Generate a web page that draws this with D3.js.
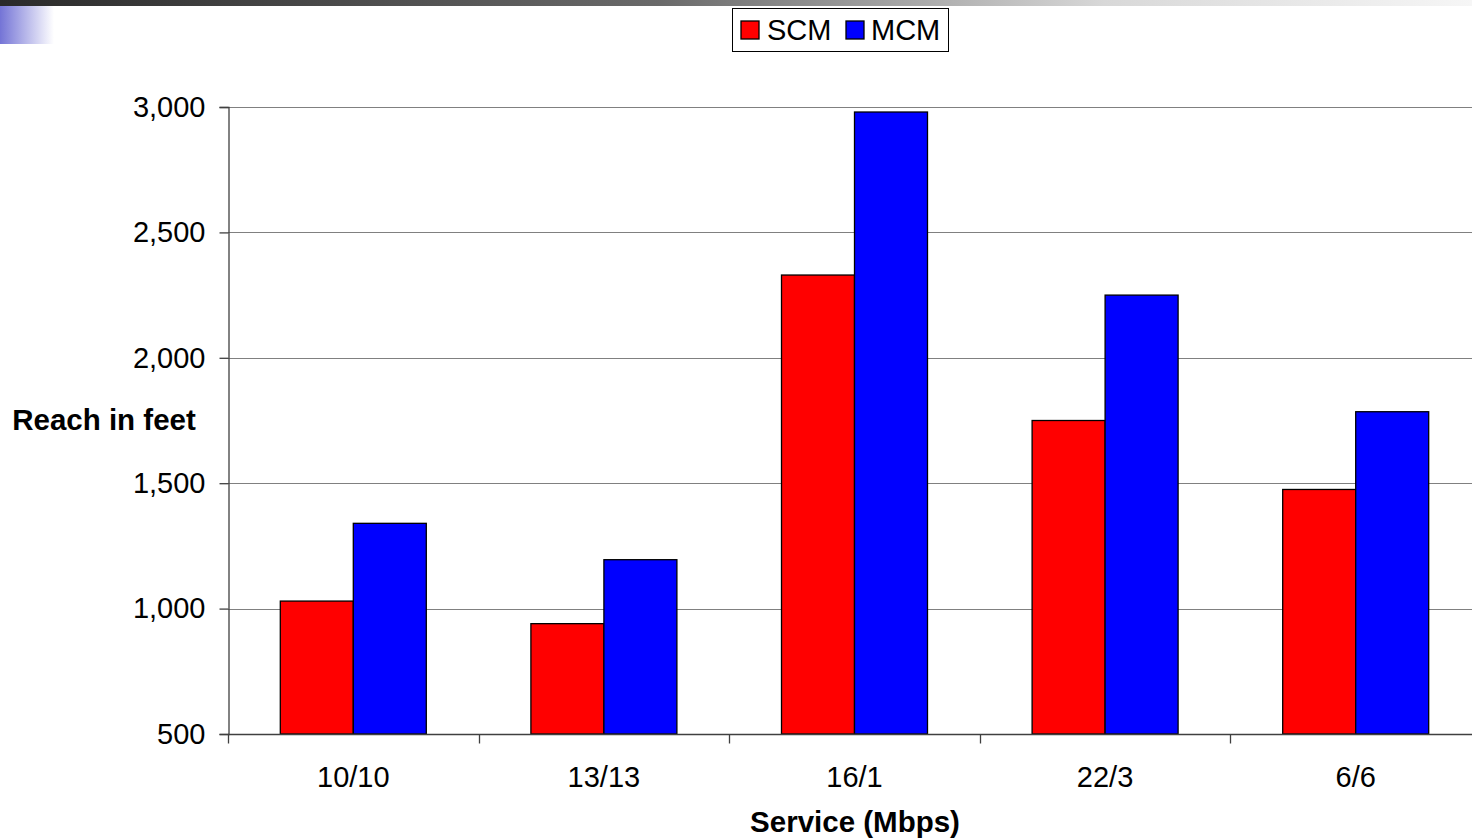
<!DOCTYPE html>
<html>
<head>
<meta charset="utf-8">
<script src="https://cdn.jsdelivr.net/npm/d3@7"></script>
<style>
  html, body { margin: 0; padding: 0; background: #fff; }
  svg { display: block; }
  text { font-family: "Liberation Sans", Arial, sans-serif; fill: #000; }
</style>
</head>
<body>
<svg id="chart" width="1472" height="838"></svg>
<script>
// Reach per service profile, single-carrier vs multi-carrier modulation
const categories = ["10/10", "13/13", "16/1", "22/3", "6/6"];
const seriesNames = ["SCM", "MCM"];
const scmValues = [1030, 940, 2330, 1750, 1475];
const mcmValues = [1340, 1195, 2980, 2250, 1785];
const yTicks = [500, 1000, 1500, 2000, 2500, 3000];
const colors = ["#ff0000", "#0000ff"];

const svg = d3.select("#chart");
const W = 1472, H = 838;

// Slide header decorations
const defs = svg.append("defs");
const gTop = defs.append("linearGradient").attr("id", "topbar");
gTop.append("stop").attr("offset", "0%").attr("stop-color", "#2a2a2a");
gTop.append("stop").attr("offset", "45%").attr("stop-color", "#6a6a6a");
gTop.append("stop").attr("offset", "75%").attr("stop-color", "#d8d8d8");
gTop.append("stop").attr("offset", "100%").attr("stop-color", "#f6f6f6");
const gSide = defs.append("linearGradient").attr("id", "sideblock");
gSide.append("stop").attr("offset", "0%").attr("stop-color", "#7474d6");
gSide.append("stop").attr("offset", "100%").attr("stop-color", "#ffffff");
svg.append("rect").attr("x", 0).attr("y", 0).attr("width", W).attr("height", 6).attr("fill", "url(#topbar)");
svg.append("rect").attr("x", 0).attr("y", 6).attr("width", 54).attr("height", 38).attr("fill", "url(#sideblock)");

// Plot geometry
const plotLeft = 228, plotTop = 107, plotBottom = 734;
const bandW = 250.6;
const plotRight = plotLeft + bandW * categories.length;

const x = d3.scaleBand().domain(categories).range([plotLeft, plotRight]).paddingInner(0).paddingOuter(0);
const y = d3.scaleLinear().domain([500, 3000]).range([plotBottom, plotTop]);
const barW = 73;
const xSub = d3.scaleBand().domain(seriesNames).range([0, barW * 2]);

// Horizontal gridlines
svg.append("g").selectAll("line").data(yTicks.filter(t => t > 500)).join("line")
  .attr("x1", plotLeft).attr("x2", W)
  .attr("y1", d => Math.round(y(d)) + 0.5).attr("y2", d => Math.round(y(d)) + 0.5)
  .attr("stroke", "#808080").attr("stroke-width", 1.2);

// Bars
const rows = categories.map((c, i) => ({ cat: c, vals: [scmValues[i], mcmValues[i]] }));
const groups = svg.append("g").selectAll("g").data(rows).join("g")
  .attr("transform", d => `translate(${x(d.cat) + x.bandwidth() / 2 - barW},0)`);
groups.selectAll("rect").data(d => d.vals.map((v, k) => ({ v, k }))).join("rect")
  .attr("x", d => xSub(seriesNames[d.k]))
  .attr("y", d => y(d.v))
  .attr("width", barW)
  .attr("height", d => y(500) - y(d.v))
  .attr("fill", d => colors[d.k])
  .attr("stroke", "#000").attr("stroke-width", 1.3);

// Y axis
const yAxis = d3.axisLeft(y).tickValues(yTicks).tickSize(9).tickPadding(14)
  .tickFormat(d3.format(","));
const gy = svg.append("g").attr("transform", `translate(${plotLeft + 0.5},0)`).call(yAxis);
gy.select(".domain").attr("stroke", "#404040").attr("stroke-width", 1.3);
gy.selectAll(".tick line").attr("stroke", "#404040").attr("stroke-width", 1.3);
gy.selectAll(".tick text").style("font-size", "29px").style("font-family", "Liberation Sans, Arial, sans-serif");

// X axis: ticks sit on category boundaries
const gx = svg.append("g").attr("transform", `translate(0,${plotBottom + 0.5})`);
gx.append("line").attr("x1", plotLeft).attr("x2", W).attr("y1", 0).attr("y2", 0)
  .attr("stroke", "#404040").attr("stroke-width", 1.3);
const bounds = d3.range(categories.length + 1).map(i => plotLeft + i * bandW);
gx.selectAll(".bt").data(bounds).join("line").attr("class", "bt")
  .attr("x1", d => Math.round(d) + 0.5).attr("x2", d => Math.round(d) + 0.5)
  .attr("y1", 0).attr("y2", 9).attr("stroke", "#404040").attr("stroke-width", 1.3);
gx.selectAll("text").data(categories).join("text")
  .attr("x", d => x(d) + x.bandwidth() / 2)
  .attr("y", 52)
  .attr("text-anchor", "middle")
  .style("font-size", "29px")
  .text(d => d);

// Axis titles
svg.append("text").attr("x", 104).attr("y", 430).attr("text-anchor", "middle")
  .style("font-size", "29.5px").style("font-weight", "bold").text("Reach in feet");
svg.append("text").attr("x", 855).attr("y", 832).attr("text-anchor", "middle")
  .style("font-size", "29.5px").style("font-weight", "bold").text("Service (Mbps)");

// Legend
const lg = svg.append("g");
lg.append("rect").attr("x", 732.5).attr("y", 8.5).attr("width", 216).attr("height", 43)
  .attr("fill", "#fff").attr("stroke", "#000").attr("stroke-width", 1);
const legendItems = [
  { name: seriesNames[0], color: colors[0], sx: 741, tx: 767 },
  { name: seriesNames[1], color: colors[1], sx: 846, tx: 871 }
];
legendItems.forEach(it => {
  lg.append("rect").attr("x", it.sx).attr("y", 21).attr("width", 18).attr("height", 18)
    .attr("fill", it.color).attr("stroke", "#000").attr("stroke-width", 1.3);
  lg.append("text").attr("x", it.tx).attr("y", 40).style("font-size", "29px").text(it.name);
});
</script>
</body>
</html>
